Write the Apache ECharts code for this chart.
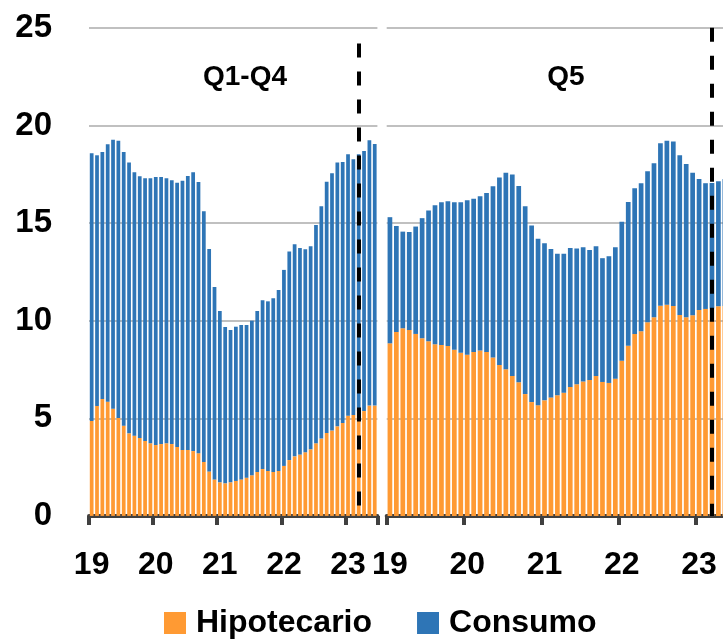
<!DOCTYPE html>
<html>
<head>
<meta charset="utf-8">
<script src="https://cdn.jsdelivr.net/npm/echarts@6/dist/echarts.min.js"></script>
<style>
html,body{margin:0;padding:0;background:#fff;overflow:hidden;}
#chart{width:745px;height:639px;}
</style>
</head>
<body>
<div id="chart"></div>
<script>
// Monthly categories Jan 2019 .. Jun 2023
var months = [];
for (var y = 2019; y <= 2023; y++) {
  for (var m = 1; m <= 12; m++) {
    if (y === 2023 && m > 6) break;
    months.push(y + '-' + (m < 10 ? '0' + m : m));
  }
}
var panelTitles = ['Q1-Q4', 'Q5'];
var seriesNames = ['Hipotecario', 'Consumo'];
var yTicks = [0, 5, 10, 15, 20, 25];
var markIndex = 50; // Mar 2023

// Q1-Q4 panel
var q14Hipotecario = [4.86,5.63,5.99,5.85,5.49,5.02,4.62,4.23,4.11,3.99,3.84,3.72,
  3.63,3.68,3.72,3.68,3.53,3.38,3.38,3.32,3.21,2.76,2.28,1.87,
  1.72,1.67,1.72,1.79,1.87,1.96,2.08,2.25,2.40,2.30,2.25,2.30,
  2.56,2.86,3.05,3.14,3.26,3.41,3.72,3.96,4.25,4.37,4.59,4.76,
  5.13,5.17,5.37,5.37,5.65,5.65];
var q14Consumo = [13.72,12.84,12.65,13.19,13.78,14.19,14.02,13.87,13.49,13.41,13.45,13.57,
  13.73,13.68,13.57,13.51,13.54,13.79,14.03,14.28,13.89,12.84,11.39,9.86,
  8.78,8.01,7.80,7.90,7.91,7.82,7.92,8.25,8.65,8.69,8.90,9.27,
  10.04,10.68,10.86,10.58,10.40,10.40,11.18,11.90,12.87,13.18,13.51,13.37,
  13.39,13.10,13.15,13.32,13.59,13.40];

// Q5 panel
var q5Hipotecario = [8.84,9.42,9.61,9.52,9.32,9.10,8.94,8.79,8.75,8.70,8.51,8.35,
  8.26,8.40,8.47,8.40,8.11,7.73,7.51,7.17,6.84,6.24,5.83,5.67,
  5.92,6.07,6.18,6.31,6.60,6.74,6.89,6.96,7.17,6.86,6.81,7.03,
  7.95,8.72,9.32,9.46,9.92,10.17,10.77,10.82,10.75,10.29,10.17,10.28,
  10.55,10.60,10.62,10.74,10.75,null];
var q5Consumo = [6.46,5.43,4.95,5.02,5.50,6.15,6.70,7.12,7.32,7.42,7.56,7.72,
  7.91,7.85,7.90,8.14,8.77,9.60,10.07,10.31,10.06,9.62,9.04,8.53,
  8.05,7.60,7.25,7.12,7.12,6.95,6.87,6.66,6.64,6.34,6.49,6.73,
  7.11,7.36,7.46,7.58,7.73,7.89,8.32,8.40,8.42,8.18,7.86,7.30,
  6.71,6.44,6.43,6.40,6.50,null];

var ORANGE = '#FF9A33', BLUE = '#2E75B6';
var FONT = 'Liberation Sans';

function yearTick(i) { return i % 12 === 0; }

function xAxis(gridIndex) {
  return {
    type: 'category', gridIndex: gridIndex, data: months, boundaryGap: true,
    axisLine: { show: true, lineStyle: { color: '#404040', width: 4 } },
    axisTick: { show: true, interval: yearTick, length: 9, lineStyle: { color: '#404040', width: 4 } },
    axisLabel: { interval: yearTick, formatter: function (v) { return v.slice(2, 4); },
      fontSize: 32, fontWeight: 'bold', color: '#000', fontFamily: FONT, margin: 33 },
    splitLine: { show: false }
  };
}
function yAxis(gridIndex, showLabels) {
  return {
    type: 'value', gridIndex: gridIndex, min: yTicks[0], max: yTicks[yTicks.length - 1], interval: 5,
    axisLine: { show: false }, axisTick: { show: false },
    axisLabel: { show: showLabels, fontSize: 33, fontWeight: 'bold', color: '#000', fontFamily: FONT, margin: 37 },
    splitLine: { show: true, lineStyle: { color: '#c0c0c0', width: 2 } }
  };
}
function dashLine(topVal) {
  return {
    silent: true, symbol: 'none', animation: false,
    label: { show: false },
    lineStyle: { color: '#000', width: 4, type: [14, 14] },
    data: [[{ coord: [markIndex, topVal] }, { coord: [markIndex, 0] }]]
  };
}

var chart = echarts.init(document.getElementById('chart'), null, { renderer: 'canvas' });
chart.setOption({
  animation: false,
  textStyle: { fontFamily: FONT },
  title: [
    { text: panelTitles[0], left: 240, top: 58, textAlign: 'center',
      textStyle: { fontSize: 28, fontWeight: 'bold', color: '#000', fontFamily: FONT } },
    { text: panelTitles[1], left: 561, top: 58, textAlign: 'center',
      textStyle: { fontSize: 28, fontWeight: 'bold', color: '#000', fontFamily: FONT } }
  ],
  legend: {
    data: seriesNames, left: 164, top: 607, padding: 0, itemGap: 45,
    itemWidth: 22, itemHeight: 22, icon: 'rect',
    textStyle: { fontSize: 32, fontWeight: 'bold', color: '#000', fontFamily: FONT, padding: [0, 0, 0, 5] }
  },
  grid: [
    { left: 89, top: 27.8, width: 288.4, height: 488.1 },
    { left: 386.7, top: 27.8, width: 347.8, height: 488.1 }
  ],
  xAxis: [xAxis(0), xAxis(1)],
  yAxis: [yAxis(0, true), yAxis(1, false)],
  series: [
    { name: seriesNames[0], type: 'bar', stack: 'a', xAxisIndex: 0, yAxisIndex: 0, data: q14Hipotecario,
      itemStyle: { color: ORANGE }, barCategoryGap: '30%' },
    { name: seriesNames[1], type: 'bar', stack: 'a', xAxisIndex: 0, yAxisIndex: 0, data: q14Consumo,
      itemStyle: { color: BLUE }, barCategoryGap: '30%', markLine: dashLine(24.2), z: 3 },
    { name: seriesNames[0], type: 'bar', stack: 'b', xAxisIndex: 1, yAxisIndex: 1, data: q5Hipotecario,
      itemStyle: { color: ORANGE }, barCategoryGap: '27%' },
    { name: seriesNames[1], type: 'bar', stack: 'b', xAxisIndex: 1, yAxisIndex: 1, data: q5Consumo,
      itemStyle: { color: BLUE }, barCategoryGap: '27%', markLine: dashLine(25), z: 3 }
  ]
});
</script>
</body>
</html>
